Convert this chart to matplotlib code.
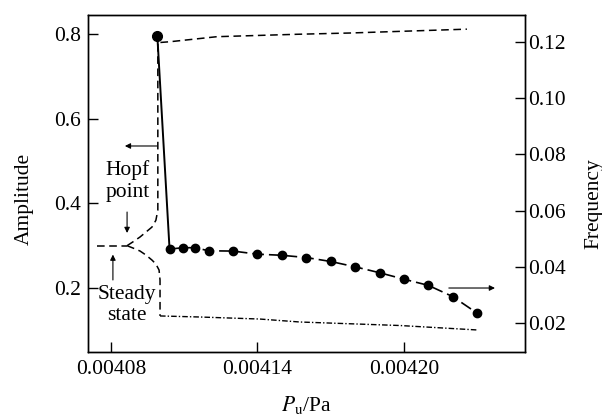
import matplotlib
matplotlib.use("Agg")
import matplotlib.pyplot as plt

plt.rcParams['font.family'] = ['Liberation Serif', 'DejaVu Serif']
plt.rcParams['mathtext.fontset'] = 'stix'
plt.rcParams['font.size'] = 15.5

# Amplitude: steady state and the two branches leaving the Hopf point
steady_p = [0.0040743, 0.0040866]
steady_amp = [0.300, 0.300]

upper_p = [0.0040866, 0.004089, 0.0040919, 0.0040943, 0.0040968, 0.0040984,
           0.0040992, 0.0040992, 0.0041001, 0.0041042, 0.0041234, 0.0041562,
           0.0041779, 0.0042258]
upper_amp = [0.300, 0.309, 0.3205, 0.332, 0.344, 0.360,
             0.384, 0.781, 0.780, 0.7818, 0.7937, 0.7994,
             0.8024, 0.8115]

lower_p = [0.0040866, 0.004089, 0.0040919, 0.0040943, 0.0040968, 0.0040984,
           0.0040997, 0.0041001, 0.0041001]
lower_amp = [0.300, 0.2945, 0.2874, 0.278, 0.266, 0.2567,
             0.2425, 0.219, 0.134]

bottom_p = [0.0041001, 0.0041165, 0.004141, 0.0041574, 0.0041984, 0.0042303]
bottom_amp = [0.134, 0.1315, 0.1267, 0.1197, 0.1114, 0.1008]

# Frequency of the oscillation
freq_p = [0.004099, 0.004104, 0.0041095, 0.0041145, 0.00412, 0.00413,
          0.00414, 0.00415, 0.00416, 0.00417, 0.00418, 0.00419,
          0.0042, 0.00421, 0.00422, 0.00423]
freq = [0.1221, 0.0463, 0.0468, 0.0468, 0.0457, 0.0456,
        0.0445, 0.0441, 0.0433, 0.0419, 0.0400, 0.0379,
        0.0356, 0.0334, 0.0294, 0.0235]

x_ticks = [0.00408, 0.00414, 0.00420]
x_ticklabels = ['0.00408', '0.00414', '0.00420']
amp_ticks = [0.2, 0.4, 0.6, 0.8]
amp_ticklabels = ['0.2', '0.4', '0.6', '0.8']
freq_ticks = [0.02, 0.04, 0.06, 0.08, 0.10, 0.12]
freq_ticklabels = ['0.02', '0.04', '0.06', '0.08', '0.10', '0.12']

fig = plt.figure(figsize=(6.02, 4.16), dpi=100)
ax = fig.add_axes([0.1462, 0.1538, 0.7259, 0.8101])
ax2 = ax.twinx()

dash = (0, (5, 3))
ax.plot(steady_p, steady_amp, color='k', lw=1.1, linestyle=dash)
ax.plot(upper_p, upper_amp, color='k', lw=1.1, linestyle=dash)
ax.plot(lower_p, lower_amp, color='k', lw=1.1, linestyle=dash)
ax.plot(bottom_p, bottom_amp, color='k', lw=1.0, linestyle=(0, (4, 1.5, 1, 1.5)))

# jump from the first point is solid, the rest of the curve dashed
ax2.plot(freq_p[:2], freq[:2], color='k', lw=1.4, linestyle='-')
ax2.plot(freq_p[1:], freq[1:], color='k', lw=1.2, linestyle=(0, (7, 3)))
ax2.plot(freq_p[1:], freq[1:], color='k', linestyle='none', marker='o', markersize=6)
ax2.plot(freq_p[:1], freq[:1], color='k', linestyle='none', marker='o', markersize=7)

ax.set_xlim(0.0040706, 0.0042496)
ax.set_ylim(0.0488, 0.8449)
ax2.set_ylim(0.00968, 0.1296)

ax.set_xticks(x_ticks)
ax.set_xticklabels(x_ticklabels)
ax.set_yticks(amp_ticks)
ax.set_yticklabels(amp_ticklabels)
ax2.set_yticks(freq_ticks)
ax2.set_yticklabels(freq_ticklabels)

ax.tick_params(axis='both', direction='in', length=7, width=1, pad=6)
ax.tick_params(axis='y', pad=5)
ax2.tick_params(axis='y', direction='in', length=7, width=1, pad=2)
for a in (ax, ax2):
    for s in a.spines.values():
        s.set_linewidth(1.0)

ax.set_xlabel(r'$P_{\mathrm{u}}$/Pa')
ax.xaxis.set_label_coords(0.5, -0.125)
ax.set_ylabel('Amplitude')
ax.yaxis.set_label_coords(-0.125, 0.455)
ax2.set_ylabel('Frequency')
ax2.yaxis.set_label_coords(1.135, 0.44)

# Annotations
arrow = dict(arrowstyle='-|>', lw=0.8, color='k', mutation_scale=8, shrinkA=0, shrinkB=0)
ax.text(0.004087, 0.452, 'Hopf\npoint', ha='center', va='center', linespacing=1.2)
ax.annotate('', xy=(0.0040857, 0.5355), xytext=(0.0040988, 0.5355), arrowprops=arrow)
ax.annotate('', xy=(0.0040866, 0.330), xytext=(0.0040866, 0.3795), arrowprops=arrow)
ax.text(0.0040866, 0.159, 'Steady\nstate', ha='center', va='center', linespacing=1.15)
ax.annotate('', xy=(0.0040808, 0.279), xytext=(0.0040808, 0.219), arrowprops=arrow)
ax.annotate('', xy=(0.0042373, 0.200), xytext=(0.0042184, 0.200), arrowprops=arrow)

fig.savefig('out.png', dpi=100)
